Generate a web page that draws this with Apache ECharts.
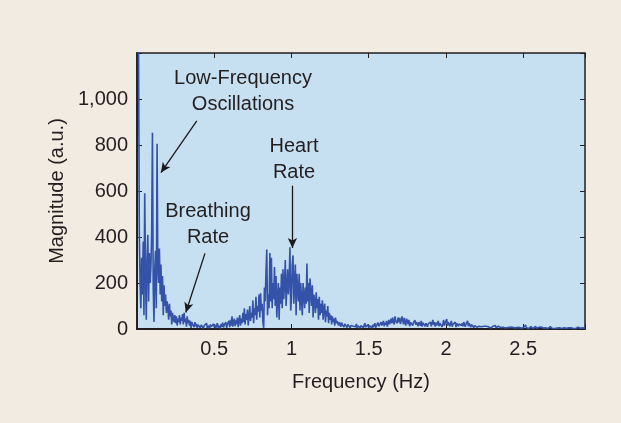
<!DOCTYPE html>
<html>
<head>
<meta charset="utf-8">
<script src="https://cdn.jsdelivr.net/npm/echarts@6/dist/echarts.min.js"></script>
<style>
  html, body { margin: 0; padding: 0; background: #f2ebe2; }
  #chart { width: 621px; height: 423px; }
</style>
</head>
<body>
<div id="chart"></div>
<script>
// spectrum sampled every 0.005 Hz from 0 Hz, one row = 0.1 Hz
const freqStep = 0.005;
const magnitude = [
  1250, 1240, 1200, 420, 200, 90, 310, 150, 380, 60, 590, 240, 40, 300, 410, 120, 330, 200, 270, 420,
  853, 180, 30, 260, 340, 90, 805, 260, 200, 350, 150, 280, 120, 230, 60, 190, 100, 150, 70, 120,
  90, 40, 110, 55, 80, 20, 70, 45, 30, 60, 25, 55, 15, 45, 30, 60, 20, 50, 35, 65,
  20, 70, 30, 45, 10, 55, 25, 40, 15, 35, 5, 30, 20, 25, 8, 30, 12, 22, 5, 18,
  10, 25, 5, 18, 12, 22, 3, 15, 20, 8, 25, 5, 14, 18, 4, 20, 10, 15, 6, 22,
  8, 18, 4, 12, 25, 6, 15, 20, 3, 22, 10, 28, 6, 18, 12, 30, 5, 20, 15, 35,
  8, 40, 15, 55, 10, 30, 45, 12, 38, 20, 50, 8, 35, 60, 15, 45, 25, 70, 30, 90,
  20, 65, 40, 85, 15, 55, 100, 35, 70, 50, 125, 25, 90, 60, 140, 40, 100, 75, 150, 50,
  155, 80, 110, 30, 5, 180, 120, 250, 346, 60, 150, 90, 330, 120, 310, 90, 200, 130, 270, 100,
  230, 50, 140, 200, 40, 180, 110, 240, 90, 260, 130, 200, 300, 100, 180, 260, 150, 210, 355, 80,
  140, 280, 320, 110, 200, 280, 60, 240, 170, 120, 240, 80, 200, 130, 60, 200, 150, 90, 180, 110,
  285, 120, 200, 70, 220, 160, 100, 190, 50, 150, 120, 70, 160, 90, 130, 40, 140, 60, 110, 70,
  125, 40, 90, 110, 30, 80, 55, 100, 25, 70, 40, 60, 20, 55, 30, 45, 15, 50, 25, 35,
  38, 15, 30, 22, 10, 28, 18, 25, 8, 22, 15, 30, 6, 20, 12, 18, 5, 15, 10, 20,
  12, 6, 18, 10, 22, 5, 14, 8, 20, 4, 15, 10, 18, 6, 12, 25, 8, 15, 5, 20,
  6, 15, 10, 22, 4, 18, 8, 12, 25, 6, 15, 10, 28, 12, 20, 8, 30, 15, 22, 35,
  12, 28, 18, 35, 10, 25, 40, 20, 15, 45, 25, 50, 30, 20, 55, 35, 42, 25, 50, 30,
  48, 22, 35, 55, 60, 20, 48, 30, 15, 45, 35, 20, 40, 12, 30, 25, 38, 15, 28, 20,
  38, 18, 30, 22, 12, 30, 25, 15, 35, 10, 28, 20, 32, 12, 25, 18, 10, 22, 15, 30,
  30, 12, 25, 40, 18, 30, 10, 28, 15, 20, 35, 12, 25, 18, 30, 10, 22, 40, 15, 25,
  20, 43, 15, 30, 22, 12, 25, 35, 10, 20, 28, 15, 30, 8, 25, 18, 12, 22, 15, 30,
  15, 25, 12, 30, 20, 10, 22, 15, 35, 12, 25, 18, 8, 20, 12, 25, 6, 15, 10, 18,
  8, 15, 5, 12, 18, 6, 10, 15, 4, 12, 20, 8, 12, 5, 15, 10, 6, 14, 4, 10,
  8, 12, 4, 10, 15, 6, 8, 3, 12, 5, 10, 6, 14, 3, 8, 5, 10, 4, 7, 3,
  6, 10, 3, 8, 12, 4, 7, 2, 9, 5, 12, 3, 6, 8, 2, 7, 4, 10, 3, 6,
  4, 8, 3, 18, 6, 3, 9, 2, 6, 4, 10, 3, 5, 2, 7, 4, 12, 3, 6, 2,
  7, 3, 5, 9, 2, 6, 4, 8, 2, 5, 3, 7, 2, 6, 4, 10, 3, 5, 2, 6,
  5, 2, 6, 3, 4, 7, 2, 5, 3, 6, 2, 4, 3, 5, 2, 6, 3, 4, 2, 5,
  4, 2, 5, 3, 6, 2, 4, 3, 2, 5, 3, 8, 2, 12, 3, 4, 2, 5, 3, 4,
  3
];
const xTicks = [0.5, 1, 1.5, 2, 2.5];
const yTicks = [0, 200, 400, 600, 800, 1000];

// annotation arrows: [from, to] in data units (Hz, a.u.)
const arrows = [
  [[0.387, 905], [0.155, 680]],
  [[0.44, 329], [0.316, 72]],
  [[1.006, 623], [1.006, 352]]
];

// annotation labels
const labels = [
  { text: 'Low-Frequency\nOscillations', x: 243, y: 65 },
  { text: 'Breathing\nRate', x: 208, y: 198 },
  { text: 'Heart\nRate', x: 294, y: 133 }
];

const points = magnitude.map((v, i) => [+(i * freqStep).toFixed(3), v]);

const chart = echarts.init(document.getElementById('chart'));
const font = 'Liberation Sans, Arial, sans-serif';
const axisColor = '#231f20';

// extra axes on top/right only carry the inside ticks of the box
const boxTicks = {
  axisLine: { show: false, onZero: false },
  axisTick: { inside: true, length: 5, lineStyle: { color: axisColor } },
  axisLabel: { show: false },
  splitLine: { show: false }
};

const option = {
  backgroundColor: '#f2ebe2',
  animation: false,
  grid: {
    left: 137, top: 53, right: 36, bottom: 94,
    show: true, backgroundColor: '#c6dff1',
    borderColor: axisColor, borderWidth: 1.5
  },
  xAxis: [{
    type: 'value', min: 0, max: 2.9, interval: 0.5,
    name: 'Frequency (Hz)', nameLocation: 'middle', nameGap: 43,
    nameTextStyle: { fontFamily: font, fontSize: 20, color: axisColor },
    axisLine: { show: true, onZero: false, lineStyle: { color: axisColor, width: 1.8 } },
    axisTick: { inside: true, length: 5, lineStyle: { color: axisColor } },
    axisLabel: {
      fontFamily: font, fontSize: 20, color: axisColor, margin: 10,
      formatter: v => (xTicks.indexOf(v) < 0 ? '' : String(v))
    },
    splitLine: { show: false }
  }, Object.assign({
    type: 'value', position: 'top', min: 0, max: 2.9, interval: 0.5
  }, boxTicks)],
  yAxis: [{
    type: 'value', min: 0, max: 1200, interval: 200,
    name: 'Magnitude (a.u.)', nameLocation: 'middle', nameGap: 70,
    nameTextStyle: { fontFamily: font, fontSize: 20, color: axisColor },
    axisLine: { show: true, onZero: false, lineStyle: { color: axisColor, width: 1.8 } },
    axisTick: { inside: true, length: 5, lineStyle: { color: axisColor } },
    axisLabel: {
      fontFamily: font, fontSize: 20, color: axisColor, margin: 9,
      formatter: v => (yTicks.indexOf(v) < 0 ? '' : v.toLocaleString('en-US'))
    },
    splitLine: { show: false }
  }, Object.assign({
    type: 'value', position: 'right', min: 0, max: 1200, interval: 200
  }, boxTicks)],
  series: [{
    type: 'line',
    data: points,
    showSymbol: false,
    clip: true,
    lineStyle: { color: '#3352a8', width: 1.6 },
    markLine: {
      silent: true,
      symbol: ['none', 'arrow'],
      symbolSize: [7, 10],
      label: { show: false },
      lineStyle: { color: '#1a1a1a', width: 1.3, type: 'solid' },
      data: arrows.map(a => [{ coord: a[0] }, { coord: a[1] }])
    }
  }],
  graphic: labels.map(l => ({
    type: 'text', x: l.x, y: l.y,
    style: {
      text: l.text, fontFamily: font, fontSize: 20, fill: axisColor,
      align: 'center', verticalAlign: 'top', lineHeight: 26
    }
  }))
};

chart.setOption(option);
</script>
</body>
</html>
